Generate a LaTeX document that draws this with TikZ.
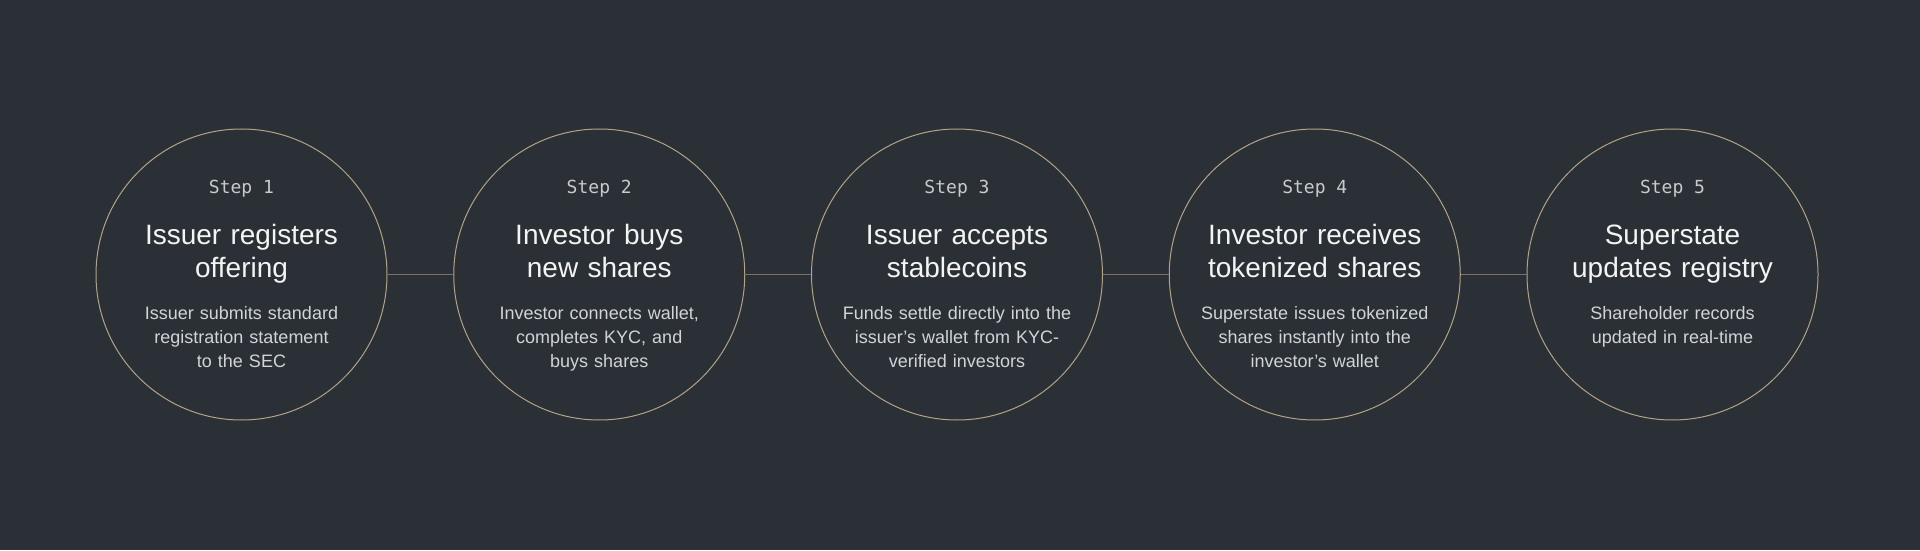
\documentclass[tikz,border=0pt]{standalone}
\usepackage{fontspec}
\setmainfont{Liberation Sans}
\newfontfamily\stepfont{DejaVu Sans Mono}
\usepackage{tikz}
\usetikzlibrary{positioning}
\usepackage{xcolor}
\definecolor{ssbg}{HTML}{2A3036}
\definecolor{ssgold}{HTML}{B3A386}
\definecolor{sslink}{HTML}{7A7264}
\definecolor{sstitle}{HTML}{F4F4F2}
\definecolor{sstext}{HTML}{D2D4D6}
\definecolor{sslabel}{HTML}{C9CACB}
\tikzstyle{stage} = [circle, draw=ssgold, line width=1pt, minimum size=291pt, inner sep=0pt]
\tikzstyle{link} = [draw=sslink, line width=0.9pt]
\tikzstyle{steplabel} = [font=\stepfont\fontsize{18}{22}\selectfont, text=sslabel, anchor=base, inner sep=0pt]
\tikzstyle{stagetitle} = [font=\fontsize{28}{33}\selectfont, text=sstitle, anchor=base, text width=290pt, align=center, inner sep=0pt]
\tikzstyle{stagedesc} = [font=\fontsize{18}{24}\selectfont, text=sstext, anchor=base, text width=250pt, align=center, inner sep=0pt]

\begin{document}
\begin{tikzpicture}[x=1pt, y=1pt, node distance=357.75pt]
% Background
\fill[ssbg] (0,0) rectangle (1920,550);
\useasboundingbox (0,0) rectangle (1920,550);

% Circles
\node (c1) [stage] at (241.5,275.5) {};
\node (c2) [stage, right of=c1] {};
\node (c3) [stage, right of=c2] {};
\node (c4) [stage, right of=c3] {};
\node (c5) [stage, right of=c4] {};

% Links
\draw[link] (c1) -- (c2);
\draw[link] (c2) -- (c3);
\draw[link] (c3) -- (c4);
\draw[link] (c4) -- (c5);

% Step 1
\node (s1) [steplabel, yshift=80.5pt] at (c1) {Step 1};
\node (t1) [stagetitle, yshift=30.5pt] at (c1) {Issuer registers\\offering};
\node (d1) [stagedesc, yshift=-44.5pt] at (c1) {Issuer submits standard\\registration statement\\to the SEC};

% Step 2
\node (s2) [steplabel, yshift=80.5pt] at (c2) {Step 2};
\node (t2) [stagetitle, yshift=30.5pt] at (c2) {Investor buys\\new shares};
\node (d2) [stagedesc, yshift=-44.5pt] at (c2) {Investor connects wallet,\\completes KYC, and\\buys shares};

% Step 3
\node (s3) [steplabel, yshift=80.5pt] at (c3) {Step 3};
\node (t3) [stagetitle, yshift=30.5pt] at (c3) {Issuer accepts\\stablecoins};
\node (d3) [stagedesc, yshift=-44.5pt] at (c3) {Funds settle directly into the\\issuer’s wallet from KYC-\\verified investors};

% Step 4
\node (s4) [steplabel, yshift=80.5pt] at (c4) {Step 4};
\node (t4) [stagetitle, yshift=30.5pt] at (c4) {Investor receives\\tokenized shares};
\node (d4) [stagedesc, yshift=-44.5pt] at (c4) {Superstate issues tokenized\\shares instantly into the\\investor’s wallet};

% Step 5
\node (s5) [steplabel, yshift=80.5pt] at (c5) {Step 5};
\node (t5) [stagetitle, yshift=30.5pt] at (c5) {Superstate\\updates registry};
\node (d5) [stagedesc, yshift=-44.5pt] at (c5) {Shareholder records\\updated in real-time};
\end{tikzpicture}
\end{document}
